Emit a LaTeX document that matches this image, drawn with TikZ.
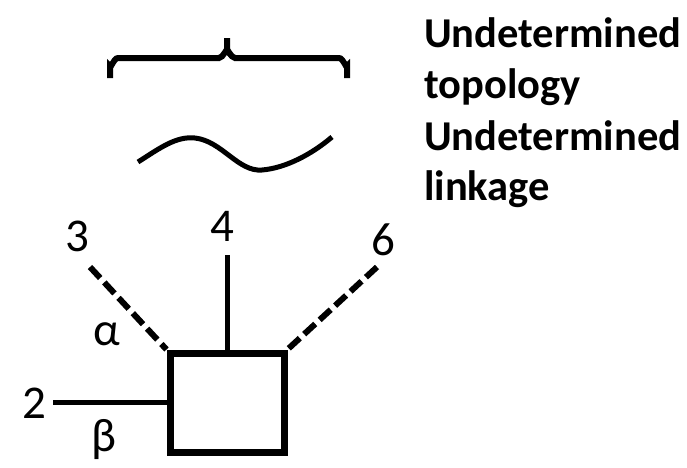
\documentclass[tikz,border=0pt]{standalone}
\usepackage{fontspec}
\setmainfont{Carlito}
\begin{document}
\begin{tikzpicture}[x=1pt,y=-1pt,
  lbl/.style={inner sep=0pt, font=\fontsize{47}{50}\selectfont},
  note/.style={inner sep=0pt, anchor=base west, font=\fontsize{42.5}{50}\selectfont\bfseries},
  bond/.style={line width=5pt},
  dbond/.style={line width=6pt, dash pattern=on 15pt off 6pt},
  ring/.style={draw, line width=7pt, minimum width=114pt, minimum height=99pt, inner sep=0pt}]
\useasboundingbox (0,0) rectangle (687,467);

% sugar ring
\node[ring] (box) at (227,402.5) {};

% substituent ends
\coordinate (e2) at (53,402.5);
\coordinate (e3) at (90,267);
\coordinate (e4) at (227,255);
\coordinate (e6) at (377,267);

\draw[bond] (e2) -- (box.west);
\draw[bond] (e4) -- (box.north);
\draw[dbond] (e3) -- (box.north west);
\draw[dbond] (e6) -- (box.north east);

% position labels
\node[lbl] (n2) at (34,403) {2};
\node[lbl] (n3) at (77,236) {3};
\node[lbl] (n4) at (222,226) {4};
\node[lbl] (n6) at (383,240) {6};
\node[lbl] (na) at (107,334) {α};
\node[lbl] (nb) at (104,440) {β};

% brace over undetermined topology
\draw[line width=6pt]
  (110,78) -- (110,66) to[out=-90,in=180] (118,58) -- (219,58)
  to[out=0,in=90] (227,51) -- (227,38);
\draw[line width=6pt]
  (347,78) -- (347,66) to[out=-90,in=0] (339,58) -- (235,58)
  to[out=180,in=90] (227,51);

% wavy line for undetermined linkage
\draw[line width=5pt]
  (138,162) .. controls (160,148) and (176,136) .. (195,138)
  .. controls (222,141) and (238,172) .. (262,170)
  .. controls (286,168) and (312,154) .. (332,137);

% legend text
\node[note] (t1) at (424,47) {Undetermined};
\node[note] (t2) at (424,98) {topology};
\node[note] (t3) at (424,150) {Undetermined};
\node[note] (t4) at (424,200) {linkage};
\end{tikzpicture}
\end{document}
